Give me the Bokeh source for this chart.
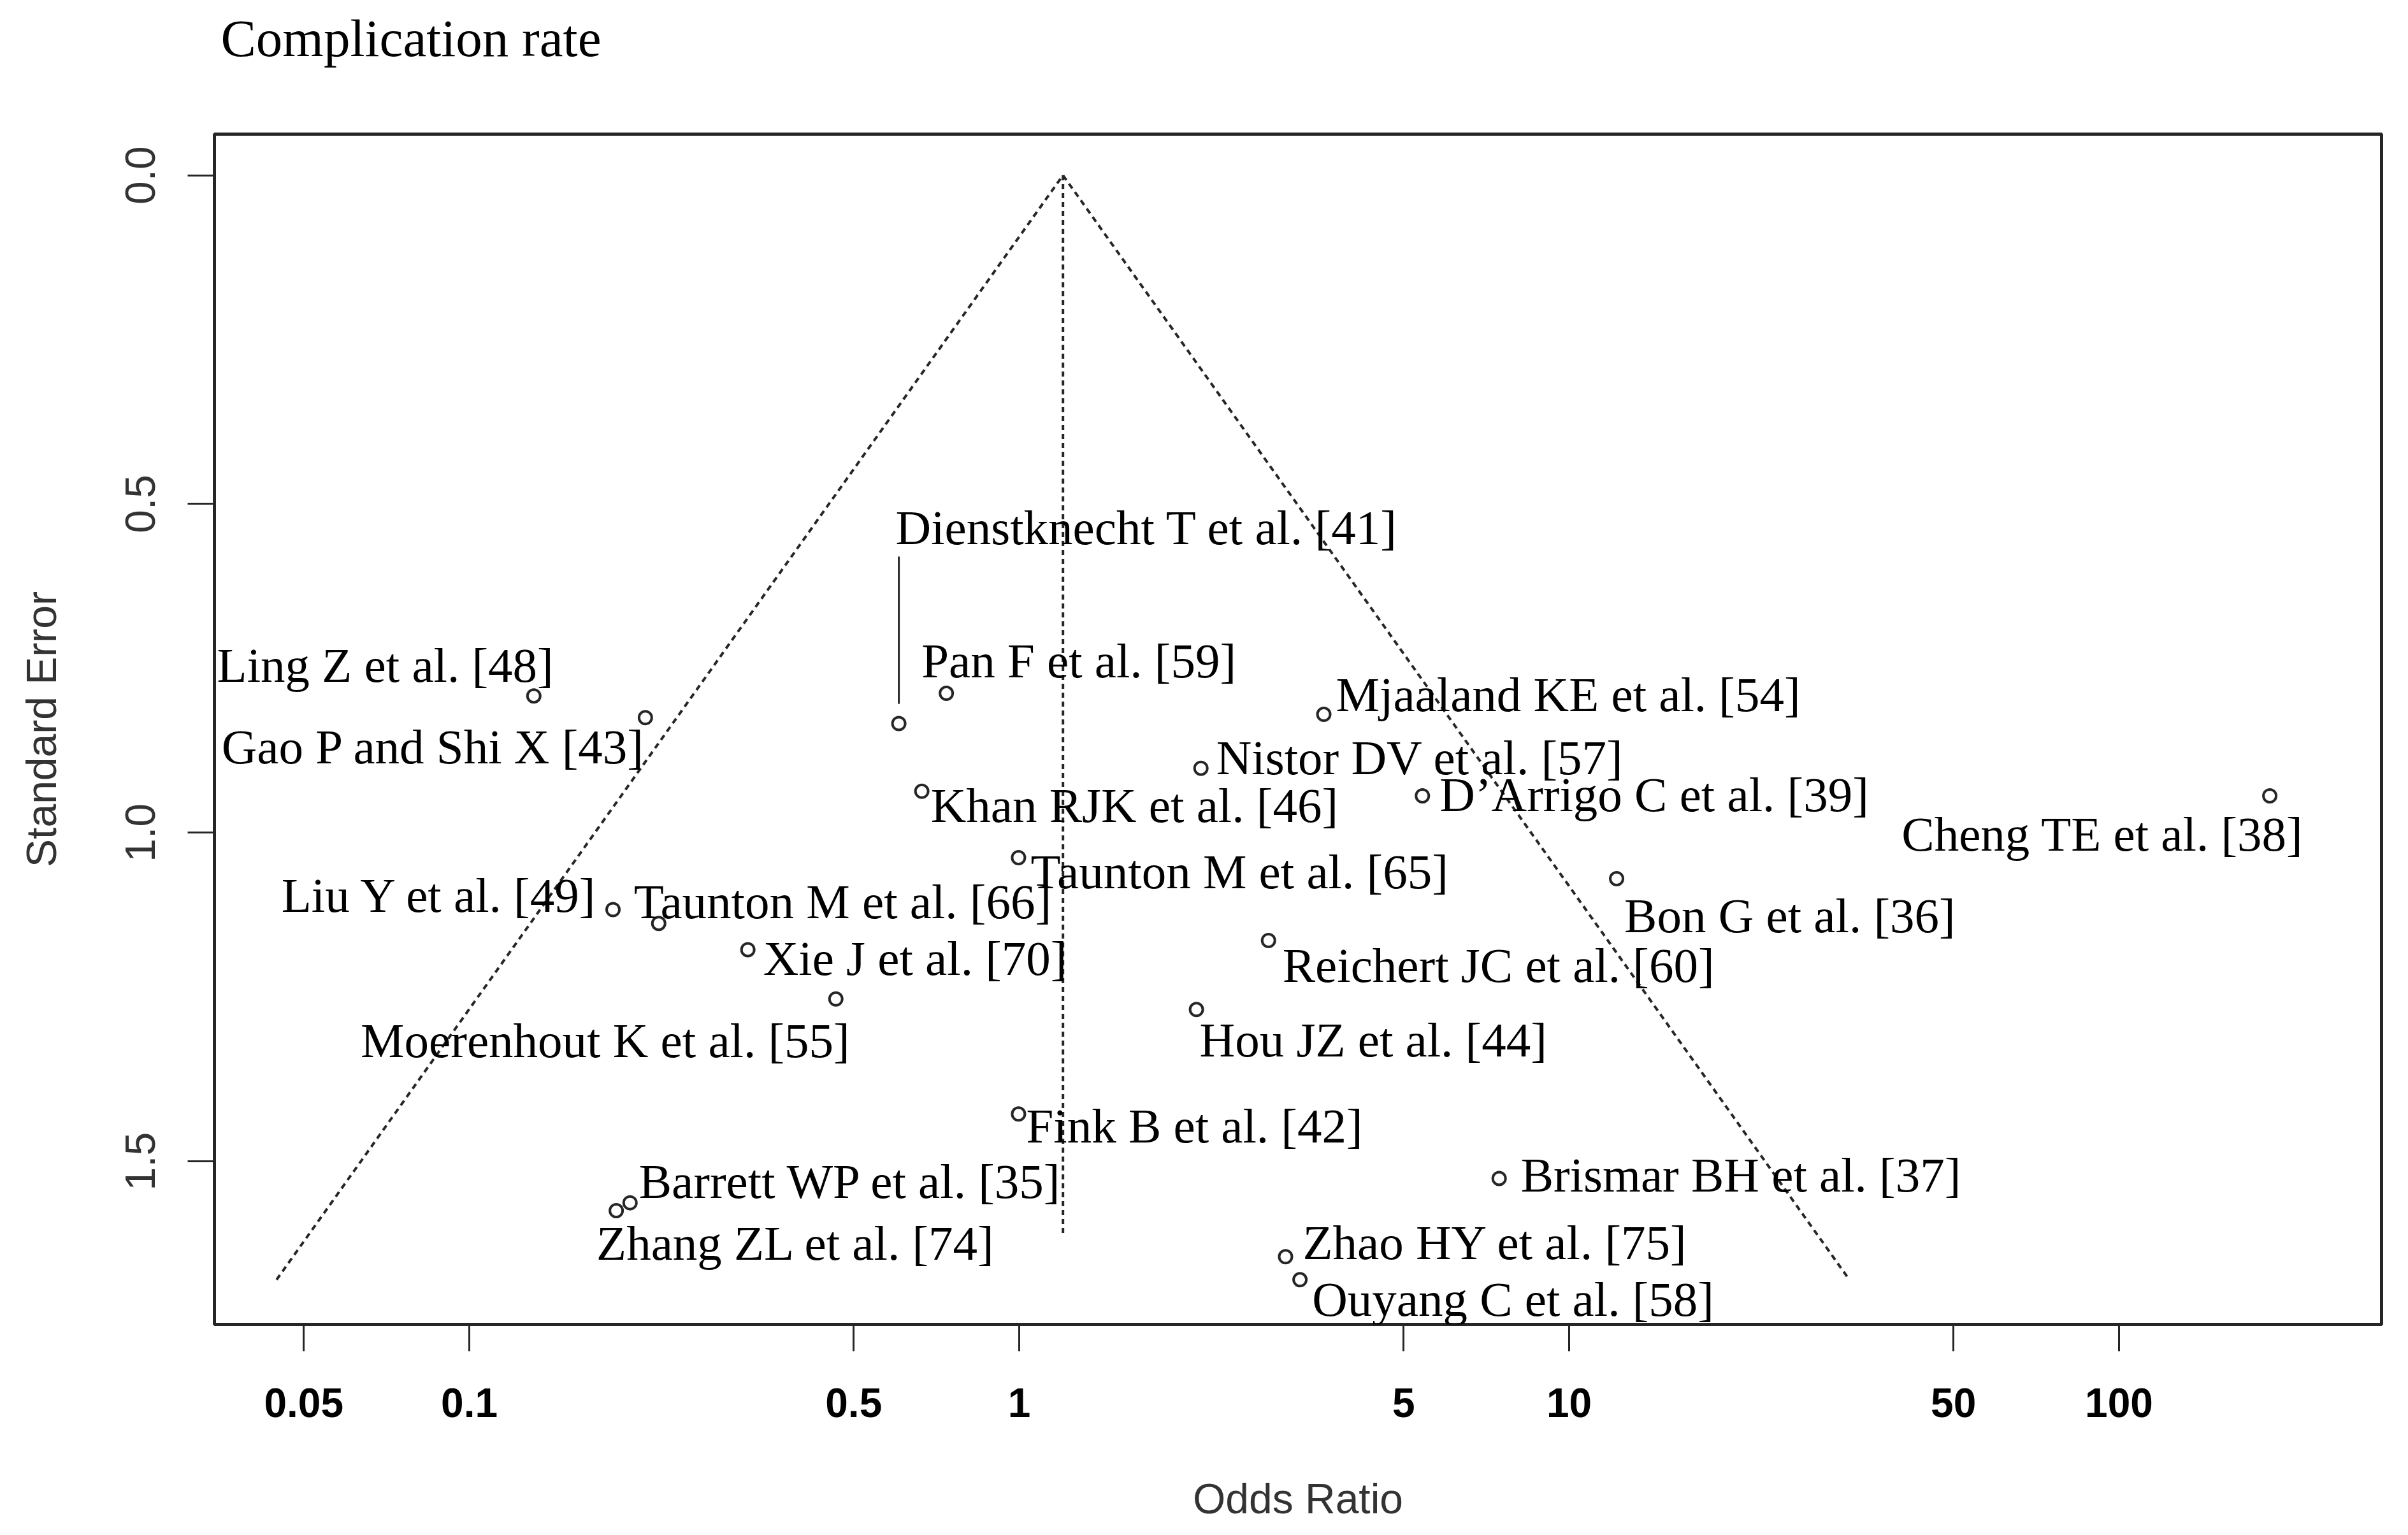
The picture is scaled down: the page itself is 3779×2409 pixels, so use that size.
import math
from bokeh.plotting import figure
from bokeh.models import ColumnDataSource, FixedTicker, Range1d, Title
from bokeh.core.properties import value
from bokeh.embed import file_html
from bokeh.resources import INLINE

# ---------------- data ----------------
studies = [
    "Ling Z et al. [48]", "Gao P and Shi X [43]", "Dienstknecht T et al. [41]",
    "Pan F et al. [59]", "Mjaaland KE et al. [54]", "Nistor DV et al. [57]",
    "Khan RJK et al. [46]", "D\u2019Arrigo C et al. [39]", "Cheng TE et al. [38]",
    "Taunton M et al. [65]", "Liu Y et al. [49]", "Taunton M et al. [66]",
    "Bon G et al. [36]", "Xie J et al. [70]", "Reichert JC et al. [60]",
    "Moerenhout K et al. [55]", "Hou JZ et al. [44]", "Fink B et al. [42]",
    "Brismar BH et al. [37]", "Barrett WP et al. [35]", "Zhang ZL et al. [74]",
    "Zhao HY et al. [75]", "Ouyang C et al. [58]",
]
odds_ratio = [0.131, 0.209, 0.604, 0.737, 3.58, 2.14, 0.665, 5.41, 188.0,
              0.997, 0.1825, 0.221, 12.2, 0.321, 2.84, 0.464, 2.10, 0.997,
              7.46, 0.196, 0.185, 3.05, 3.24]
std_error = [0.792, 0.825, 0.834, 0.788, 0.820, 0.902, 0.937, 0.944, 0.944,
             1.038, 1.117, 1.138, 1.070, 1.178, 1.164, 1.253, 1.269, 1.428,
             1.526, 1.563, 1.575, 1.645, 1.680]
pooled_or = 1.201          # summary estimate (apex of funnel)
refline_se_end = 1.614     # where the vertical reference line stops
leader_se = [0.580, 0.804]  # leader line for Dienstknecht T et al. [41]

x_ticks = [0.05, 0.1, 0.5, 1, 5, 10, 50, 100]
x_tick_labels = ["0.05", "0.1", "0.5", "1", "5", "10", "50", "100"]
y_ticks = [0.0, 0.5, 1.0, 1.5]
y_tick_labels = ["0.0", "0.5", "1.0", "1.5"]
title_text = "Complication rate"

# ---------------- label layout (screen-pixel offsets from each point) -------
label_align = ["right", "right", "left", "left", "left", "left", "left", "left",
               "right", "left", "right", "left", "left", "left", "left", "right",
               "left", "left", "left", "left", "left", "left", "left"]
label_dx = [31, 0, -5, -39, 19, 24, 14, 27, 53, 19, -22, -39, 12, 24, 22, 22,
            5, 12, 34, 14, -31, 27, 19]
label_dy = [-48, 46, -308, -51, -31, -17, 22, -2, 60, 22, -22, -34, 58, 14, 39,
            65, 48, 19, -5, -34, 51, -22, 31]

SERIF = "Liberation Serif"
SANS = "Liberation Sans"
FRAME_W, FRAME_H = 3401, 1868

p = figure(
    frame_width=FRAME_W, frame_height=FRAME_H,
    min_border_left=336, min_border_right=42, min_border_top=210, min_border_bottom=331,
    x_axis_type="log",
    x_range=Range1d(0.03439, 300.2),
    y_range=Range1d(1.748, -0.0626),
    output_backend="svg", toolbar_location=None,
    background_fill_color="white", border_fill_color="white",
)
p.title = None

p.grid.visible = False
p.outline_line_color = "#262626"
p.outline_line_width = 5
p.outline_line_alpha = 1.0

# title: a blank spacer next to the frame, then the real title above it
p.add_layout(Title(text=" ", text_font_size="10px", standoff=92), "above")
p.add_layout(Title(text=title_text, text_font=SERIF, text_font_size="83px",
                   text_font_style="normal", text_color="black", align="left",
                   offset=10, standoff=0), "above")

# x axis
xa = p.xaxis[0]
xa.ticker = FixedTicker(ticks=x_ticks)
xa.major_label_overrides = {t: l for t, l in zip(x_ticks, x_tick_labels)}
xa.axis_line_color = None
xa.minor_tick_line_color = None
xa.major_tick_out = 42
xa.major_tick_in = 0
xa.major_tick_line_width = 3
xa.major_tick_line_color = "#262626"
xa.major_label_text_font = SANS
xa.major_label_text_font_style = "bold"
xa.major_label_text_font_size = "64px"
xa.major_label_text_color = "black"
xa.major_label_standoff = 58
xa.axis_label = "Odds Ratio"
xa.axis_label_text_font = SANS
xa.axis_label_text_font_style = "normal"
xa.axis_label_text_font_size = "66px"
xa.axis_label_text_color = "#333333"
xa.axis_label_standoff = 88

# y axis
ya = p.yaxis[0]
ya.ticker = FixedTicker(ticks=y_ticks)
ya.major_label_overrides = {t: l for t, l in zip(y_ticks, y_tick_labels)}
ya.axis_line_color = None
ya.minor_tick_line_color = None
ya.major_tick_out = 42
ya.major_tick_in = 0
ya.major_tick_line_width = 3
ya.major_tick_line_color = "#262626"
ya.major_label_orientation = "vertical"
ya.major_label_text_font = SANS
ya.major_label_text_font_size = "66px"
ya.major_label_text_color = "#333333"
ya.major_label_standoff = 51
ya.axis_label = "Standard Error"
ya.axis_label_text_font = SANS
ya.axis_label_text_font_style = "normal"
ya.axis_label_text_font_size = "66px"
ya.axis_label_text_color = "#333333"
ya.axis_label_standoff = 93

# funnel (pseudo 95% confidence region) around pooled estimate
se_max = max(std_error)
ln_pool = math.log(pooled_or)
funnel_x = [math.exp(ln_pool - 1.96 * se_max), pooled_or, math.exp(ln_pool + 1.96 * se_max)]
funnel_y = [se_max, 0.0, se_max]
p.line(funnel_x, funnel_y, line_color="#262626", line_width=4, line_dash="9 7")
p.line([pooled_or, pooled_or], [0.0, refline_se_end], line_color="#262626",
       line_width=4, line_dash="8 6")

# leader line for one label
i_d = studies.index("Dienstknecht T et al. [41]")
p.line([odds_ratio[i_d], odds_ratio[i_d]], leader_se, line_color="#262626", line_width=3)

# study points
p.scatter(odds_ratio, std_error, marker="circle", size=20, fill_color=None,
          line_color="#262626", line_width=4)

# labels
for a in ("left", "right"):
    idx = [i for i, v in enumerate(label_align) if v == a]
    s = ColumnDataSource(dict(x=[odds_ratio[i] for i in idx], y=[std_error[i] for i in idx],
                              name=[studies[i] for i in idx],
                              dx=[label_dx[i] for i in idx], dy=[label_dy[i] for i in idx]))
    p.text("x", "y", text="name", source=s, x_offset="dx", y_offset="dy",
           text_align=a, text_baseline="middle", text_font=value(SERIF),
           text_font_size="77px", text_color="black")

open("out.html", "w").write(file_html(p, INLINE))
